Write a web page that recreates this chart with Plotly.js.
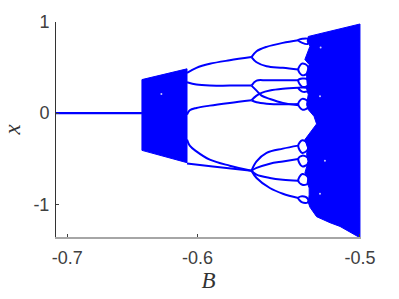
<!DOCTYPE html>
<html><head><meta charset="utf-8">
<script src="https://cdn.plot.ly/plotly-3.0.1.min.js"></script>
<style>html,body{margin:0;padding:0;background:#fff;overflow:hidden}#c{width:399px;height:299px}</style>
</head><body><div id="c"></div>
<script>
// Bifurcation diagram readings: [B values, x values]
const bTickVals = [-0.7, -0.6, -0.4752];
const bTickText = ['-0.7', '-0.6', '-0.5'];
const xTickVals = [-1, 0, 1];
const xTickText = ['-1', '0', '1'];

const fixedB = [-0.7086, -0.6426];
const fixedX = [0, 0];

const band1B = [-0.6426, -0.6080, -0.6080, -0.6426, -0.6426];
const band1X = [0.368, 0.486, -0.544, -0.409, 0.368];

const band2B = [-0.5149,-0.4982,-0.4867,-0.4752,-0.4752,-0.4905,-0.4982,-0.5085,-0.5136,-0.5149,-0.5142,-0.5142,-0.5157,-0.5149,-0.5175,-0.5162,-0.5149,-0.5162,-0.5154,-0.5175,-0.5136,-0.5085,-0.5105,-0.5149,-0.5162,-0.5157,-0.5149,-0.5162,-0.5157,-0.5162,-0.5162,-0.5142,-0.5175,-0.5136,-0.5157,-0.5149];
const band2X = [0.841,0.896,0.940,0.978,-1.368,-1.244,-1.203,-1.137,-1.033,-0.980,-0.896,-0.822,-0.764,-0.695,-0.657,-0.585,-0.530,-0.456,-0.382,-0.291,-0.214,-0.119,-0.035,0.038,0.093,0.148,0.203,0.269,0.313,0.404,0.442,0.533,0.588,0.734,0.789,0.841];

const specksB = [-0.5059,-0.5054,-0.5021,-0.5059,-0.6277];
const specksX = [0.185,0.720,-0.522,-0.885,0.211];

const stemB1 = [-0.6080,-0.6008,-0.5905,-0.5752,-0.5585];
const stemA = [0.442,0.497,0.541,0.580,0.615];
const stemBx = [0.338,0.313,0.302,0.302,0.302];
const stemB2 = [-0.6080,-0.6059,-0.6008,-0.5905,-0.5752,-0.5585];
const stemC = [-0.016,0.031,0.057,0.082,0.112,0.141];
const stemD = [-0.291,-0.357,-0.420,-0.511,-0.577,-0.632];
const stemE_B = [-0.6080,-0.5882,-0.5585];
const stemE = [-0.552,-0.585,-0.632];

const forkB5 = [-0.5585,-0.5546,-0.5469,-0.5344,-0.5226];
const forkB6 = [-0.5585,-0.5546,-0.5508,-0.5444,-0.5344,-0.5226];
const aUp = [0.615,0.679,0.727,0.771,0.800];
const aLow = [0.615,0.558,0.514,0.497,0.478];
const bUp = [0.302,0.357,0.360,0.360,0.360];
const bLow = [0.302,0.247,0.192,0.156,0.112,0.086];
const cUp = [0.141,0.192,0.222,0.247,0.266,0.277];
const cLow = [0.141,0.119,0.104,0.097,0.101];
const l1 = [-0.632,-0.530,-0.437,-0.390,-0.357];
const forkB4 = [-0.5585,-0.5546,-0.5444,-0.5344,-0.5226];
const l2 = [-0.632,-0.602,-0.555,-0.530,-0.503];
const l3 = [-0.632,-0.676,-0.712,-0.731,-0.742];
const l4 = [-0.632,-0.712,-0.822,-0.885,-0.932];

const loopB = [-0.5226,-0.5195,-0.5153,-0.5153,-0.5195,-0.5226];
const loop1 = [0.800,0.815,0.815,0.760,0.771,0.800];
const loop2 = [0.478,0.544,0.514,0.442,0.415,0.478];
const loop3 = [0.360,0.379,0.368,0.302,0.288,0.360];
const loop4 = [0.277,0.280,0.269,0.242,0.236,0.277];
const loop5 = [0.101,0.156,0.130,0.060,0.038,0.101];
const loop6 = [-0.357,-0.299,-0.335,-0.401,-0.437,-0.357];
const loop7 = [-0.503,-0.467,-0.492,-0.555,-0.585,-0.503];
const loop8 = [-0.742,-0.668,-0.701,-0.775,-0.786,-0.742];
const loop9 = [-0.932,-0.914,-0.940,-0.980,-0.980,-0.932];

const BLUE = '#0000ff';
const line = (x, y, w) => ({x, y, type:'scatter', mode:'lines', line:{color:BLUE, width:w||2, simplify:false, shape:'spline', smoothing:1}});
const fill = (x, y) => ({x, y, type:'scatter', mode:'lines', fill:'toself', fillcolor:BLUE, line:{color:BLUE, width:1}});
const traces = [
  line(fixedB, fixedX, 2.2), fill(band1B, band1X), fill(band2B, band2X),
  line(stemB1, stemA), line(stemB1, stemBx), line(stemB2, stemC), line(stemB2, stemD), line(stemE_B, stemE),
  line(forkB5, aUp), line(forkB5, aLow), line(forkB5, bUp), line(forkB6, bLow), line(forkB6, cUp), line(forkB5, cLow),
  line(forkB5, l1), line(forkB4, l2), line(forkB4, l3), line(forkB4, l4),
  line(loopB, loop1), line(loopB, loop2), line(loopB, loop3), line(loopB, loop4), line(loopB, loop5),
  line(loopB, loop6), line(loopB, loop7), line(loopB, loop8), line(loopB, loop9),
  {x:specksB, y:specksX, type:'scatter', mode:'markers', marker:{color:'#c8c8ff', size:2}}
];
const tickFont = {family:'"Liberation Sans", Arial, sans-serif', size:18, color:'#404040'};
const titleFont = {family:'"Liberation Serif", serif', size:23, color:'#333333'};
Plotly.newPlot('c', traces, {
  width:399, height:299, showlegend:false, paper_bgcolor:'#fff', plot_bgcolor:'#fff',
  margin:{l:56, r:38, t:22, b:62, pad:0},
  xaxis:{range:[-0.7086,-0.4744], tickmode:'array', tickvals:bTickVals, ticktext:bTickText, ticks:'inside', ticklen:3, tickcolor:'#404040', tickwidth:1, ticklabelstandoff:3,
    showgrid:false, zeroline:false, showline:true, linecolor:'#a6a6a6', linewidth:2, tickfont:tickFont, automargin:false,
    title:{text:'<i>B</i>', font:titleFont, standoff:4}},
  yaxis:{range:[-1.36,1.0], tickmode:'array', tickvals:xTickVals, ticktext:xTickText, ticks:'inside', ticklen:3, tickcolor:'#404040', tickwidth:1, ticklabelstandoff:2,
    showgrid:false, zeroline:false, showline:true, linecolor:'#333333', linewidth:1, tickfont:tickFont, automargin:false,
    title:{text:'<i>x</i>', font:titleFont, standoff:8}}
}, {staticPlot:true, displayModeBar:false});
</script></body></html>
